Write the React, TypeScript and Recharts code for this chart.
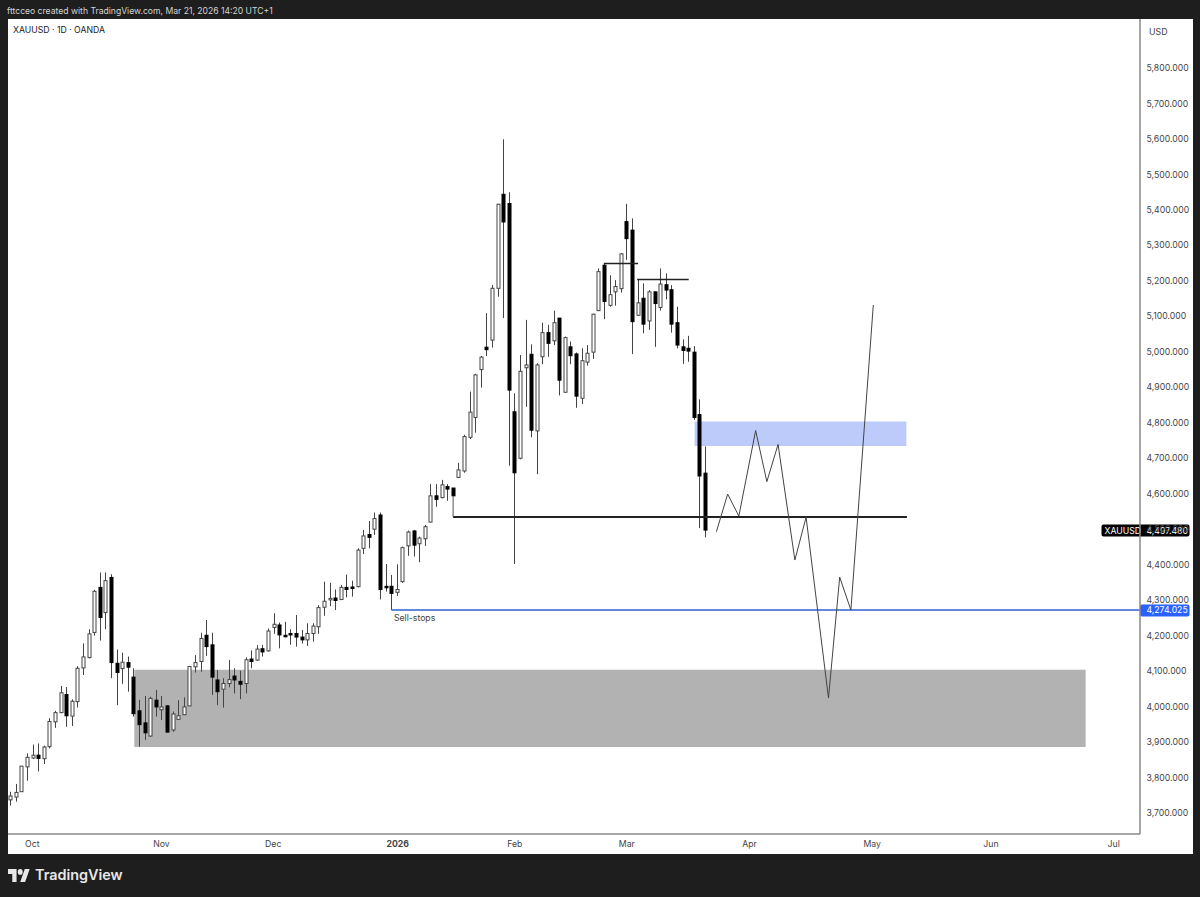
import {
  ComposedChart,
  Bar,
  Line,
  XAxis,
  YAxis,
  ReferenceArea,
  ReferenceLine,
  ReferenceDot,
} from 'recharts'

const FONT = 'Inter, "Liberation Sans", sans-serif'

const opens = [
  3737, 3745, 3760, 3830, 3855, 3863, 3853, 3887, 3957, 3983,
  4034, 3973, 4014, 4109, 4138, 4209, 4336, 4265, 4364, 4122,
  4107, 4124, 4083, 3988, 3954, 3917, 4018, 3991, 4002, 3934,
  3964, 3977, 4002, 4112, 4127, 4201, 4174, 4075, 4049, 4065,
  4086, 4071, 4065, 4134, 4131, 4163, 4157, 4223, 4230, 4201,
  4206, 4206, 4196, 4188, 4206, 4225, 4280, 4302, 4306, 4302,
  4336, 4337, 4338, 4446, 4485, 4500, 4540, 4339, 4339, 4322,
  4352, 4453, 4495, 4459, 4473, 4520, 4594, 4589, 4620, 4616,
  4646, 4664, 4759, 4815, 4950, 5013, 5033, 5179, 5444, 5418,
  4831, 4700, 4955, 4993, 4777, 4986, 5054, 5031, 5095, 4886,
  5014, 4994, 4869, 4971, 4999, 5116, 5244, 5131, 5169, 5178,
  5367, 5343, 5103, 5151, 5087, 5169, 5125, 5189, 5175, 5082,
  5014, 5010, 4999, 4823, 4658,
]
const highs = [
  3760, 3782, 3832, 3868, 3893, 3896, 3890, 3967, 3988, 4058,
  4055, 4020, 4114, 4178, 4218, 4329, 4378, 4378, 4373, 4161,
  4152, 4141, 4108, 4019, 4030, 4028, 4047, 4030, 4004, 3986,
  4018, 4026, 4114, 4145, 4208, 4244, 4208, 4103, 4080, 4131,
  4108, 4101, 4139, 4158, 4173, 4174, 4220, 4263, 4237, 4239,
  4218, 4258, 4216, 4235, 4235, 4286, 4352, 4349, 4330, 4343,
  4372, 4355, 4446, 4498, 4523, 4547, 4547, 4402, 4371, 4401,
  4451, 4496, 4498, 4479, 4512, 4627, 4627, 4639, 4627, 4616,
  4687, 4766, 4888, 4938, 4988, 5109, 5188, 5417, 5599, 5450,
  4883, 4991, 5090, 5021, 4968, 5082, 5076, 5116, 5095, 5043,
  5029, 4998, 5010, 5019, 5107, 5235, 5248, 5216, 5202, 5278,
  5417, 5376, 5204, 5193, 5174, 5170, 5235, 5221, 5188, 5127,
  5035, 5045, 5016, 4866, 4733,
]
const lows = [
  3721, 3732, 3760, 3791, 3852, 3817, 3838, 3882, 3940, 3981,
  3943, 3945, 3997, 4089, 4136, 4200, 4186, 4218, 4080, 4004,
  4064, 4042, 3972, 3887, 3906, 3915, 3972, 3962, 3927, 3929,
  3962, 3976, 4002, 4096, 4098, 4143, 4033, 4004, 3997, 4054,
  4037, 4021, 4037, 4108, 4129, 4141, 4155, 4205, 4164, 4195,
  4174, 4169, 4178, 4171, 4183, 4205, 4256, 4283, 4272, 4300,
  4308, 4310, 4336, 4430, 4446, 4484, 4302, 4324, 4272, 4312,
  4349, 4425, 4423, 4407, 4453, 4519, 4563, 4587, 4580, 4594,
  4644, 4659, 4754, 4772, 4899, 4988, 5012, 5155, 5095, 4679,
  4402, 4697, 4845, 4759, 4655, 4965, 4986, 5019, 4877, 4884,
  4965, 4842, 4853, 4961, 4980, 5115, 5092, 5127, 5130, 5167,
  5259, 4994, 5101, 5052, 5062, 5014, 5116, 5148, 5054, 5010,
  4966, 4972, 4808, 4503, 4477,
]
const closes = [
  3748, 3758, 3832, 3857, 3863, 3854, 3886, 3958, 3983, 4039,
  3974, 4015, 4108, 4140, 4205, 4325, 4251, 4355, 4124, 4096,
  4125, 4111, 3980, 3949, 3926, 4023, 3999, 3999, 3928, 3979,
  3974, 3999, 4113, 4124, 4192, 4169, 4083, 4042, 4065, 4076,
  4075, 4063, 4132, 4127, 4162, 4154, 4213, 4232, 4202, 4198,
  4204, 4196, 4188, 4206, 4227, 4279, 4297, 4305, 4299, 4336,
  4330, 4334, 4441, 4481, 4477, 4530, 4330, 4337, 4319, 4330,
  4448, 4492, 4455, 4475, 4507, 4594, 4584, 4625, 4613, 4594,
  4667, 4761, 4830, 4935, 4985, 5006, 5179, 5416, 5366, 4892,
  4659, 4945, 4963, 4779, 4963, 5054, 5024, 5082, 4920, 5040,
  4989, 4875, 4975, 4996, 5106, 5226, 5142, 5161, 5184, 5276,
  5319, 5085, 5138, 5078, 5169, 5136, 5191, 5174, 5078, 5019,
  5004, 5002, 4815, 4650, 4497.48,
]

// hand drawn forecast
const pathBars = [126, 128, 130, 133, 135, 137, 140, 142, 146, 148, 150, 154]
const pathPrices = [4493, 4599, 4537, 4778, 4634, 4739, 4413, 4534, 4024, 4365, 4272, 5132]

const priceTicks = [3700, 3800, 3900, 4000, 4100, 4200, 4300, 4400, 4500, 4600, 4700, 4800, 4900, 5000, 5100, 5200, 5300, 5400, 5500, 5600, 5700, 5800]
const timeTicks = [3.9, 26.95, 46.9, 69.1, 90, 110, 131.9, 153.8, 175, 196.9]
const timeLabels = ['Oct', 'Nov', 'Dec', '2026', 'Feb', 'Mar', 'Apr', 'May', 'Jun', 'Jul']

const rows = opens.map((open, i) => ({
  bar: i,
  open,
  high: highs[i],
  low: lows[i],
  close: closes[i],
}))
const pathRows = pathBars.map((bar, i) => ({ bar, path: pathPrices[i] }))

function Candle(props: any) {
  const { x, y, width, height, payload } = props
  const { open, high, low, close } = payload
  const k = height / (high - low)
  const cx = Math.floor(x + width / 2) + 0.5
  const top = y + (high - Math.max(open, close)) * k
  const bodyH = Math.max(Math.abs(open - close) * k, 1.5)
  const up = close >= open
  return (
    <g>
      <line x1={cx} x2={cx} y1={y} y2={y + height} stroke="#444" strokeWidth={1} />
      <rect
        x={cx - 1.5}
        y={top}
        width={3}
        height={bodyH}
        fill={up ? '#fff' : '#000'}
        stroke={up ? '#444' : '#000'}
        strokeWidth={1}
      />
    </g>
  )
}

function PriceTag({ viewBox, text, name, color }: any) {
  const y = viewBox.y
  const x = viewBox.x + viewBox.width
  const left = name ? x - 38.5 : x
  return (
    <g fontFamily={FONT} fontSize={8.7} fill="#fff">
      <rect x={left} y={y - 5.5} width={x + 49.5 - left} height={12} rx={2} fill={color} />
      {name && <text x={left + 3} y={y + 3.5}>{name}</text>}
      <text x={x + 6.5} y={y + 3.5}>{text}</text>
    </g>
  )
}

function TimeTick({ x, y, payload }: any) {
  const label = timeLabels[timeTicks.indexOf(payload.value)]
  return (
    <text
      x={x}
      y={y + 4.5}
      textAnchor="middle"
      fontFamily={FONT}
      fontSize={8.7}
      fontWeight={label === '2026' ? 700 : 400}
      fill="#444"
    >
      {label}
    </text>
  )
}

export default function App() {
  return (
    <div style={{ position: 'fixed', left: 0, top: 0, width: 1200, height: 897, background: '#1e1e1e', overflow: 'hidden', fontFamily: FONT }}>
      <div style={{ position: 'absolute', left: 7, top: 6, fontSize: 8.6, color: '#d4d4d4', whiteSpace: 'nowrap' }}>
        fttcceo created with TradingView.com, Mar 21, 2026 14:20 UTC+1
      </div>
      <div style={{ position: 'absolute', left: 7.5, top: 19, width: 1185, height: 834.5, background: '#fff' }}>
        <ComposedChart
          width={1185}
          height={834.5}
          data={rows}
          margin={{ top: 0, right: 0, bottom: 0, left: 0 }}
        >
          <XAxis
            dataKey="bar"
            type="number"
            domain={[-0.446, 201.6]}
            allowDataOverflow
            ticks={timeTicks}
            interval={0}
            height={19.5}
            tick={<TimeTick />}
            tickLine={false}
            axisLine={{ stroke: '#8a8a8a', strokeWidth: 1.5 }}
          />
          <YAxis
            type="number"
            orientation="right"
            domain={[3640.8, 5938.1]}
            allowDataOverflow
            ticks={priceTicks}
            interval={0}
            width={53}
            tickLine={false}
            tickSize={0}
            tickFormatter={(v: number) => v.toLocaleString('en-US', { minimumFractionDigits: 3 })}
            tick={{ fontFamily: FONT, fontSize: 8.7, fill: '#444' }}
            tickMargin={6.5}
            axisLine={{ stroke: '#8a8a8a', strokeWidth: 1.5 }}
          />
          <ReferenceArea x1={22.1} x2={191.9} y1={3886} y2={4104} fill="#b2b2b2" fillOpacity={1} stroke="none" />
          <ReferenceArea x1={122.1} x2={159.9} y1={4734.5} y2={4803.5} fill="#bccbfa" fillOpacity={1} stroke="none" />
          <ReferenceLine segment={[{ x: 79, y: 4534 }, { x: 160, y: 4534 }]} stroke="#222" strokeWidth={2} />
          <ReferenceLine segment={[{ x: 79, y: 4534 }, { x: 79, y: 4594 }]} stroke="#555" strokeWidth={1} />
          <ReferenceLine segment={[{ x: 105.9, y: 5249 }, { x: 112, y: 5249 }]} stroke="#222" strokeWidth={1.5} />
          <ReferenceLine segment={[{ x: 111.85, y: 5204 }, { x: 121.05, y: 5204 }]} stroke="#222" strokeWidth={1.5} />
          <ReferenceLine segment={[{ x: 68, y: 4272.5 }, { x: 201.6, y: 4272.5 }]} stroke="#2c5fd6" strokeWidth={1.5} />
          <Bar dataKey={(d: any) => [d.low, d.high]} shape={<Candle />} barSize={4} isAnimationActive={false} />
          <Line
            data={pathRows}
            dataKey="path"
            stroke="#444"
            strokeWidth={1}
            dot={false}
            activeDot={false}
            isAnimationActive={false}
          />
          <ReferenceDot
            x={67.55}
            y={4251}
            r={0}
            stroke="none"
            label={{ value: 'Sell-stops', position: 'right', fontFamily: FONT, fontSize: 8.7, fill: '#444' }}
          />
          <ReferenceLine y={4497.48} stroke="none" label={<PriceTag text="4,497.480" name="XAUUSD" color="#000" />} />
          <ReferenceLine y={4272.5} stroke="none" label={<PriceTag text="4,274.025" color="#2962ff" />} />
        </ComposedChart>
        <div style={{ position: 'absolute', left: 5.5, top: 6, fontSize: 8.7, color: '#222', whiteSpace: 'nowrap' }}>
          XAUUSD · 1D · OANDA
        </div>
        <div style={{ position: 'absolute', left: 1141.5, top: 7, fontSize: 8.8, color: '#444' }}>USD</div>
      </div>
      <svg style={{ position: 'absolute', left: 8, top: 869 }} width={22} height={13} viewBox="0 4 36 18" preserveAspectRatio="none">
        <path d="M14 22H7V11H0V4h14v18zM28 22h-8l7.5-18h8L28 22z" fill="#e8e8e8" />
        <circle cx={20} cy={8} r={4} fill="#e8e8e8" />
      </svg>
      <div style={{ position: 'absolute', left: 35, top: 866, fontSize: 14.4, fontWeight: 600, color: '#e8e8e8', whiteSpace: 'nowrap' }}>
        TradingView
      </div>
    </div>
  )
}
